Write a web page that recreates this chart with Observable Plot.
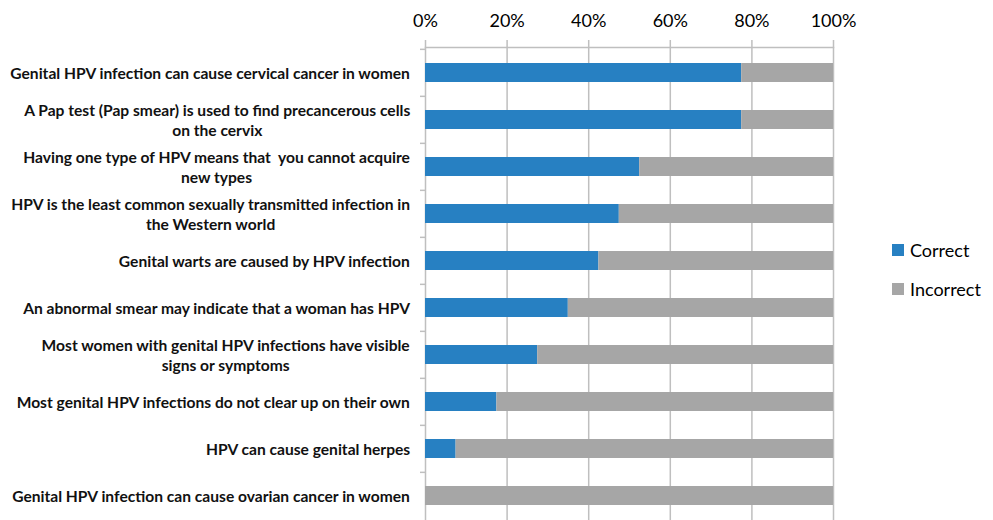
<!DOCTYPE html>
<html>
<head>
<meta charset="utf-8">
<script src="https://cdn.jsdelivr.net/npm/d3@7"></script>
<script src="https://cdn.jsdelivr.net/npm/@observablehq/plot@0.6"></script>
<style>
  html, body { margin: 0; padding: 0; background: #fff; }
  #wrap { position: relative; width: 993px; height: 520px; overflow: hidden; }
  .leg { position: absolute; font-family: Lato, sans-serif; font-size: 18px; color: #000; display: flex; align-items: center; }
  .leg span.sw { display: inline-block; width: 12px; height: 12px; margin-right: 6px; }
</style>
</head>
<body>
<div id="wrap"></div>
<script>
const categories = [
  "Genital HPV infection can cause cervical cancer in women",
  "A Pap test (Pap smear) is used to find precancerous cells\non the cervix",
  "Having one type of HPV means that  you cannot acquire\nnew types",
  "HPV is the least common sexually transmitted infection in\nthe Western world",
  "Genital warts are caused by HPV infection",
  "An abnormal smear may indicate that a woman has HPV",
  "Most women with genital HPV infections have visible\nsigns or symptoms",
  "Most genital HPV infections do not clear up on their own",
  "HPV can cause genital herpes",
  "Genital HPV infection can cause ovarian cancer in women"
];
const correct   = [77.5, 77.5, 52.5, 47.5, 42.5, 35, 27.5, 17.5, 7.5, 0];
const incorrect = [22.5, 22.5, 47.5, 52.5, 57.5, 65, 72.5, 82.5, 92.5, 100];
const seriesNames = ["Correct", "Incorrect"];
const seriesColors = ["#2780c2", "#a6a6a6"];
const xTicks = [0, 20, 40, 60, 80, 100];

const rows = [];
categories.forEach((c, i) => {
  rows.push({cat: c, series: "Correct", value: correct[i]});
  rows.push({cat: c, series: "Incorrect", value: incorrect[i]});
});

async function draw() {
  const labelSize = 15.6;
  const labelFont = `bold ${labelSize}px Lato`;
  try { await document.fonts.load(labelFont); } catch (e) {}
  const ctx = document.createElement("canvas").getContext("2d");
  ctx.font = labelFont;

  const W = 993, H = 520, mT = 47, mL = 425, mR = 160, mB = 0;
  const step = (H - mT - mB) / categories.length;

  const labelMarks = categories.map(c => {
    const w = d3.max(c.split("\n"), s => ctx.measureText(s).width);
    return Plot.text([c], {
      y: d => d, text: d => d, frameAnchor: "left",
      dx: -(15 + w / 2), textAnchor: "middle", lineHeight: 1.27,
      fontSize: labelSize, fontWeight: "bold", fill: "#111"
    });
  });

  const chart = Plot.plot({
    width: W, height: H,
    marginTop: mT, marginLeft: mL, marginRight: mR, marginBottom: mB,
    style: {fontFamily: "Lato, sans-serif", background: "#fff"},
    x: {domain: [0, 100], axis: null, label: null},
    y: {domain: categories, paddingInner: 0.6, paddingOuter: 0.3, axis: null, label: null},
    color: {domain: seriesNames, range: seriesColors},
    marks: [
      Plot.ruleX(xTicks, {stroke: "#bfbfbf", strokeWidth: 1.5, insetTop: -7}),
      Plot.frame({anchor: "top", stroke: "#bfbfbf", strokeWidth: 1.5}),
      Plot.ruleY(categories, {y: d => d, dy: -step / 2, x1: 0, x2: 0, insetLeft: -5, stroke: "#bfbfbf", strokeWidth: 1.5}),
      Plot.barX(rows, Plot.stackX({y: "cat", x: "value", fill: "series", order: seriesNames})),
      Plot.axisX(xTicks, {anchor: "top", label: null, tickSize: 0, tickPadding: 21, tickFormat: d => d + "%", fontSize: 18, fill: "#000"}),
      ...labelMarks
    ]
  });
  const wrap = document.getElementById("wrap");
  wrap.appendChild(chart);

  const legTop = [244, 283];
  seriesNames.forEach((s, i) => {
    const d = document.createElement("div");
    d.className = "leg";
    d.style.left = "892px";
    d.style.top = (legTop[i] - 5) + "px";
    d.innerHTML = `<span class="sw" style="background:${seriesColors[i]}"></span>${s}`;
    wrap.appendChild(d);
  });
}
draw();
</script>
</body>
</html>
